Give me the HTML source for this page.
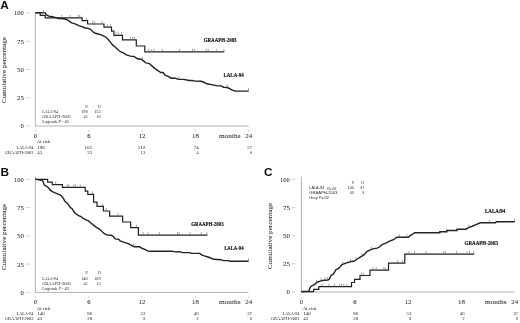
<!DOCTYPE html>
<html><head><meta charset="utf-8"><style>
html,body{margin:0;padding:0;background:#fff;}
body{width:520px;height:323px;overflow:hidden;font-family:"Liberation Sans",sans-serif;}
svg{display:block;will-change:transform;}
</style></head><body>
<svg width="520" height="323" viewBox="0 0 520 323">
<rect width="520" height="323" fill="#fff"/>
<text x="0.2" y="9.1" font-size="11.8" font-family='"Liberation Sans", sans-serif' text-anchor="start" font-weight="bold" font-style="normal" fill="#111" >A</text>
<line x1="35.40" y1="12.40" x2="35.40" y2="126.50" stroke="#b4b4b4" stroke-width="1"/>
<line x1="35.40" y1="126.00" x2="248.70" y2="126.00" stroke="#b4b4b4" stroke-width="1"/>
<line x1="25.60" y1="13.00" x2="29.60" y2="13.00" stroke="#c8c8c8" stroke-width="0.8"/>
<text x="14.05" y="15.45" font-size="6.8" font-family='"Liberation Serif", serif' text-anchor="start" font-weight="normal" font-style="normal" fill="#333" textLength="9.80" lengthAdjust="spacingAndGlyphs" stroke="#444" stroke-width="0.08">100</text>
<line x1="25.60" y1="41.25" x2="29.60" y2="41.25" stroke="#c8c8c8" stroke-width="0.8"/>
<text x="16.95" y="43.70" font-size="6.8" font-family='"Liberation Serif", serif' text-anchor="start" font-weight="normal" font-style="normal" fill="#333" textLength="6.90" lengthAdjust="spacingAndGlyphs" stroke="#444" stroke-width="0.08">75</text>
<line x1="25.60" y1="69.50" x2="29.60" y2="69.50" stroke="#c8c8c8" stroke-width="0.8"/>
<text x="16.95" y="71.95" font-size="6.8" font-family='"Liberation Serif", serif' text-anchor="start" font-weight="normal" font-style="normal" fill="#333" textLength="6.90" lengthAdjust="spacingAndGlyphs" stroke="#444" stroke-width="0.08">50</text>
<line x1="25.60" y1="97.75" x2="29.60" y2="97.75" stroke="#c8c8c8" stroke-width="0.8"/>
<text x="16.95" y="100.20" font-size="6.8" font-family='"Liberation Serif", serif' text-anchor="start" font-weight="normal" font-style="normal" fill="#333" textLength="6.90" lengthAdjust="spacingAndGlyphs" stroke="#444" stroke-width="0.08">25</text>
<line x1="25.60" y1="126.00" x2="29.60" y2="126.00" stroke="#c8c8c8" stroke-width="0.8"/>
<text x="20.45" y="128.45" font-size="6.8" font-family='"Liberation Serif", serif' text-anchor="start" font-weight="normal" font-style="normal" fill="#333" textLength="3.40" lengthAdjust="spacingAndGlyphs" stroke="#444" stroke-width="0.08">0</text>
<line x1="35.40" y1="129.40" x2="35.40" y2="131.80" stroke="#bbb" stroke-width="0.6"/>
<text x="33.85" y="137.50" font-size="7.0" font-family='"Liberation Serif", serif' text-anchor="start" font-weight="normal" font-style="normal" fill="#333" textLength="3.30" lengthAdjust="spacingAndGlyphs" stroke="#444" stroke-width="0.08">0</text>
<line x1="88.70" y1="129.40" x2="88.70" y2="131.80" stroke="#bbb" stroke-width="0.6"/>
<text x="87.15" y="137.50" font-size="7.0" font-family='"Liberation Serif", serif' text-anchor="start" font-weight="normal" font-style="normal" fill="#333" textLength="3.30" lengthAdjust="spacingAndGlyphs" stroke="#444" stroke-width="0.08">6</text>
<line x1="142.00" y1="129.40" x2="142.00" y2="131.80" stroke="#bbb" stroke-width="0.6"/>
<text x="138.65" y="137.50" font-size="7.0" font-family='"Liberation Serif", serif' text-anchor="start" font-weight="normal" font-style="normal" fill="#333" textLength="6.90" lengthAdjust="spacingAndGlyphs" stroke="#444" stroke-width="0.08">12</text>
<line x1="195.30" y1="129.40" x2="195.30" y2="131.80" stroke="#bbb" stroke-width="0.6"/>
<text x="191.95" y="137.50" font-size="7.0" font-family='"Liberation Serif", serif' text-anchor="start" font-weight="normal" font-style="normal" fill="#333" textLength="6.90" lengthAdjust="spacingAndGlyphs" stroke="#444" stroke-width="0.08">18</text>
<line x1="248.60" y1="129.40" x2="248.60" y2="131.80" stroke="#bbb" stroke-width="0.6"/>
<text x="245.25" y="137.50" font-size="7.0" font-family='"Liberation Serif", serif' text-anchor="start" font-weight="normal" font-style="normal" fill="#333" textLength="6.90" lengthAdjust="spacingAndGlyphs" stroke="#444" stroke-width="0.08">24</text>
<text x="219.05" y="137.50" font-size="7.0" font-family='"Liberation Serif", serif' text-anchor="start" font-weight="normal" font-style="normal" fill="#333" textLength="21.50" lengthAdjust="spacingAndGlyphs" stroke="#444" stroke-width="0.08">months</text>
<text x="0" y="0" font-size="7.0" font-family='"Liberation Serif", serif' text-anchor="middle" fill="#333" stroke="#444" stroke-width="0.08" textLength="66.30" lengthAdjust="spacingAndGlyphs" transform="translate(5.9,70.2) rotate(-90)">Cumulative percentage</text>
<polyline points="35.40,12.70 40.20,12.70 40.20,15.40 45.20,15.40 45.20,17.90 82.10,17.90 82.10,20.70 87.60,20.70 87.60,24.00 104.00,24.00 104.00,27.20 111.50,27.20 111.50,31.10 113.90,31.10 113.90,35.30 122.50,35.30 122.50,39.80 136.30,39.80 136.30,46.00 144.80,46.00 144.80,51.90 224.30,51.90" fill="none" stroke="#222" stroke-width="1.2" stroke-linejoin="miter"/>
<line x1="61.70" y1="17.90" x2="61.70" y2="14.90" stroke="#666" stroke-width="0.6"/>
<line x1="70.20" y1="17.90" x2="70.20" y2="14.90" stroke="#666" stroke-width="0.6"/>
<line x1="78.40" y1="17.90" x2="78.40" y2="14.90" stroke="#666" stroke-width="0.6"/>
<line x1="79.80" y1="17.90" x2="79.80" y2="14.90" stroke="#666" stroke-width="0.6"/>
<line x1="86.60" y1="20.70" x2="86.60" y2="17.70" stroke="#666" stroke-width="0.6"/>
<line x1="92.70" y1="24.00" x2="92.70" y2="21.00" stroke="#666" stroke-width="0.6"/>
<line x1="94.60" y1="24.00" x2="94.60" y2="21.00" stroke="#666" stroke-width="0.6"/>
<line x1="102.00" y1="24.00" x2="102.00" y2="21.00" stroke="#666" stroke-width="0.6"/>
<line x1="107.30" y1="27.20" x2="107.30" y2="24.20" stroke="#666" stroke-width="0.6"/>
<line x1="110.60" y1="27.20" x2="110.60" y2="24.20" stroke="#666" stroke-width="0.6"/>
<line x1="116.00" y1="35.30" x2="116.00" y2="32.30" stroke="#666" stroke-width="0.6"/>
<line x1="118.30" y1="35.30" x2="118.30" y2="32.30" stroke="#666" stroke-width="0.6"/>
<line x1="121.50" y1="35.30" x2="121.50" y2="32.30" stroke="#666" stroke-width="0.6"/>
<line x1="130.60" y1="39.80" x2="130.60" y2="36.80" stroke="#666" stroke-width="0.6"/>
<line x1="132.90" y1="39.80" x2="132.90" y2="36.80" stroke="#666" stroke-width="0.6"/>
<line x1="134.60" y1="39.80" x2="134.60" y2="36.80" stroke="#666" stroke-width="0.6"/>
<line x1="148.50" y1="51.90" x2="148.50" y2="48.90" stroke="#666" stroke-width="0.6"/>
<line x1="151.30" y1="51.90" x2="151.30" y2="48.90" stroke="#666" stroke-width="0.6"/>
<line x1="153.70" y1="51.90" x2="153.70" y2="48.90" stroke="#666" stroke-width="0.6"/>
<line x1="162.30" y1="51.90" x2="162.30" y2="48.90" stroke="#666" stroke-width="0.6"/>
<line x1="179.30" y1="51.90" x2="179.30" y2="48.90" stroke="#666" stroke-width="0.6"/>
<line x1="192.50" y1="51.90" x2="192.50" y2="48.90" stroke="#666" stroke-width="0.6"/>
<line x1="194.60" y1="51.90" x2="194.60" y2="48.90" stroke="#666" stroke-width="0.6"/>
<line x1="206.20" y1="51.90" x2="206.20" y2="48.90" stroke="#666" stroke-width="0.6"/>
<line x1="208.20" y1="51.90" x2="208.20" y2="48.90" stroke="#666" stroke-width="0.6"/>
<line x1="216.90" y1="51.90" x2="216.90" y2="48.90" stroke="#666" stroke-width="0.6"/>
<line x1="223.90" y1="51.90" x2="223.90" y2="48.90" stroke="#666" stroke-width="0.6"/>
<polyline points="35.40,12.70 45.20,12.90 46.50,15.00 48.90,16.10 52.60,16.70 55.70,17.60 58.80,18.50 64.10,18.80 66.50,19.50 68.90,20.90 71.60,22.90 74.30,23.60 77.00,24.60 78.70,25.60 81.80,26.60 85.20,28.00 88.20,28.40 90.80,29.60 93.60,32.40 95.40,33.30 99.10,34.20 102.90,35.60 105.60,37.00 108.00,39.30 110.30,42.10 112.60,44.90 114.90,46.70 117.70,49.50 120.50,51.70 123.40,52.90 126.40,54.90 130.50,56.10 134.10,56.50 136.90,58.50 140.90,59.30 142.10,59.70 145.80,62.90 149.00,63.30 152.20,66.10 155.40,68.90 157.30,70.20 160.80,72.50 163.10,72.50 165.00,75.20 168.10,76.30 171.20,78.20 175.40,78.20 178.10,79.40 182.70,79.40 185.80,79.80 188.80,80.50 192.00,80.50 195.10,81.10 201.20,81.30 204.30,82.50 207.00,83.80 211.20,84.60 215.10,85.40 217.40,85.90 221.20,85.90 223.50,87.20 227.40,87.50 232.00,89.80 235.00,91.10 248.70,91.10" fill="none" stroke="#222" stroke-width="1.4" stroke-linejoin="miter"/>
<line x1="43.60" y1="12.87" x2="43.60" y2="9.87" stroke="#666" stroke-width="0.6"/>
<line x1="142.50" y1="60.05" x2="142.50" y2="57.05" stroke="#666" stroke-width="0.6"/>
<line x1="178.80" y1="79.40" x2="178.80" y2="76.40" stroke="#666" stroke-width="0.6"/>
<line x1="227.00" y1="87.47" x2="227.00" y2="84.47" stroke="#666" stroke-width="0.6"/>
<line x1="248.50" y1="91.10" x2="248.50" y2="88.10" stroke="#666" stroke-width="0.6"/>
<text x="203.70" y="41.90" font-size="5.2" font-family='"Liberation Serif", serif' text-anchor="start" font-weight="bold" font-style="normal" fill="#111" textLength="32.90" lengthAdjust="spacingAndGlyphs" stroke="#111" stroke-width="0.15">GRAAPH-2003</text>
<text x="223.50" y="76.60" font-size="5.2" font-family='"Liberation Serif", serif' text-anchor="start" font-weight="bold" font-style="normal" fill="#111" textLength="20.30" lengthAdjust="spacingAndGlyphs" stroke="#111" stroke-width="0.15">LALA-94</text>
<text x="85.25" y="108.00" font-size="4.6" font-family='"Liberation Serif", serif' text-anchor="start" font-weight="normal" font-style="normal" fill="#2a2a2a" textLength="2.40" lengthAdjust="spacingAndGlyphs" >N</text>
<text x="97.65" y="108.00" font-size="4.6" font-family='"Liberation Serif", serif' text-anchor="start" font-weight="normal" font-style="normal" fill="#2a2a2a" textLength="3.00" lengthAdjust="spacingAndGlyphs" >O</text>
<text x="42.15" y="113.20" font-size="4.6" font-family='"Liberation Serif", serif' text-anchor="start" font-weight="normal" font-style="normal" fill="#2a2a2a" textLength="15.80" lengthAdjust="spacingAndGlyphs" >LALA-94</text>
<text x="81.15" y="113.20" font-size="4.6" font-family='"Liberation Serif", serif' text-anchor="start" font-weight="normal" font-style="normal" fill="#2a2a2a" textLength="6.50" lengthAdjust="spacingAndGlyphs" >198</text>
<text x="94.15" y="113.20" font-size="4.6" font-family='"Liberation Serif", serif' text-anchor="start" font-weight="normal" font-style="normal" fill="#2a2a2a" textLength="6.50" lengthAdjust="spacingAndGlyphs" >153</text>
<text x="42.15" y="118.20" font-size="4.6" font-family='"Liberation Serif", serif' text-anchor="start" font-weight="normal" font-style="normal" fill="#2a2a2a" textLength="28.70" lengthAdjust="spacingAndGlyphs" >GRAAPH-2003</text>
<text x="83.55" y="118.20" font-size="4.6" font-family='"Liberation Serif", serif' text-anchor="start" font-weight="normal" font-style="normal" fill="#2a2a2a" textLength="4.10" lengthAdjust="spacingAndGlyphs" >43</text>
<text x="96.55" y="118.20" font-size="4.6" font-family='"Liberation Serif", serif' text-anchor="start" font-weight="normal" font-style="normal" fill="#2a2a2a" textLength="4.10" lengthAdjust="spacingAndGlyphs" >10</text>
<text x="42.15" y="123.30" font-size="4.6" font-family='"Liberation Serif", serif' text-anchor="start" font-weight="normal" font-style="normal" fill="#2a2a2a" textLength="27.20" lengthAdjust="spacingAndGlyphs" >Logrank <tspan font-style="italic">P</tspan>=.05</text>
<text x="36.65" y="143.40" font-size="4.6" font-family='"Liberation Serif", serif' text-anchor="start" font-weight="normal" font-style="normal" fill="#222" textLength="13.60" lengthAdjust="spacingAndGlyphs" >At risk</text>
<text x="16.60" y="148.50" font-size="4.6" font-family='"Liberation Serif", serif' text-anchor="start" font-weight="normal" font-style="normal" fill="#222" textLength="16.80" lengthAdjust="spacingAndGlyphs" >LALA-94</text>
<text x="4.75" y="154.00" font-size="4.6" font-family='"Liberation Serif", serif' text-anchor="start" font-weight="normal" font-style="normal" fill="#222" textLength="28.65" lengthAdjust="spacingAndGlyphs" >GRAAPH-2003</text>
<text x="37.25" y="148.50" font-size="4.6" font-family='"Liberation Serif", serif' text-anchor="start" font-weight="normal" font-style="normal" fill="#222" textLength="7.55" lengthAdjust="spacingAndGlyphs" >198</text>
<text x="37.25" y="154.00" font-size="4.6" font-family='"Liberation Serif", serif' text-anchor="start" font-weight="normal" font-style="normal" fill="#222" textLength="4.80" lengthAdjust="spacingAndGlyphs" >43</text>
<text x="84.50" y="148.50" font-size="4.6" font-family='"Liberation Serif", serif' text-anchor="start" font-weight="normal" font-style="normal" fill="#222" textLength="7.55" lengthAdjust="spacingAndGlyphs" >165</text>
<text x="87.25" y="154.00" font-size="4.6" font-family='"Liberation Serif", serif' text-anchor="start" font-weight="normal" font-style="normal" fill="#222" textLength="4.80" lengthAdjust="spacingAndGlyphs" >33</text>
<text x="137.80" y="148.50" font-size="4.6" font-family='"Liberation Serif", serif' text-anchor="start" font-weight="normal" font-style="normal" fill="#222" textLength="7.55" lengthAdjust="spacingAndGlyphs" >112</text>
<text x="140.55" y="154.00" font-size="4.6" font-family='"Liberation Serif", serif' text-anchor="start" font-weight="normal" font-style="normal" fill="#222" textLength="4.80" lengthAdjust="spacingAndGlyphs" >13</text>
<text x="193.85" y="148.50" font-size="4.6" font-family='"Liberation Serif", serif' text-anchor="start" font-weight="normal" font-style="normal" fill="#222" textLength="4.80" lengthAdjust="spacingAndGlyphs" >74</text>
<text x="196.60" y="154.00" font-size="4.6" font-family='"Liberation Serif", serif' text-anchor="start" font-weight="normal" font-style="normal" fill="#222" textLength="2.05" lengthAdjust="spacingAndGlyphs" >4</text>
<text x="247.15" y="148.50" font-size="4.6" font-family='"Liberation Serif", serif' text-anchor="start" font-weight="normal" font-style="normal" fill="#222" textLength="4.80" lengthAdjust="spacingAndGlyphs" >57</text>
<text x="249.90" y="154.00" font-size="4.6" font-family='"Liberation Serif", serif' text-anchor="start" font-weight="normal" font-style="normal" fill="#222" textLength="2.05" lengthAdjust="spacingAndGlyphs" >0</text>
<text x="0.4" y="175.8" font-size="11.8" font-family='"Liberation Sans", sans-serif' text-anchor="start" font-weight="bold" font-style="normal" fill="#111" >B</text>
<line x1="35.40" y1="176.30" x2="35.40" y2="292.90" stroke="#b4b4b4" stroke-width="1"/>
<line x1="35.40" y1="292.40" x2="248.50" y2="292.40" stroke="#b4b4b4" stroke-width="1"/>
<line x1="25.60" y1="179.30" x2="29.60" y2="179.30" stroke="#c8c8c8" stroke-width="0.8"/>
<text x="14.05" y="181.75" font-size="6.8" font-family='"Liberation Serif", serif' text-anchor="start" font-weight="normal" font-style="normal" fill="#333" textLength="9.80" lengthAdjust="spacingAndGlyphs" stroke="#444" stroke-width="0.08">100</text>
<line x1="25.60" y1="207.57" x2="29.60" y2="207.57" stroke="#c8c8c8" stroke-width="0.8"/>
<text x="16.95" y="210.02" font-size="6.8" font-family='"Liberation Serif", serif' text-anchor="start" font-weight="normal" font-style="normal" fill="#333" textLength="6.90" lengthAdjust="spacingAndGlyphs" stroke="#444" stroke-width="0.08">75</text>
<line x1="25.60" y1="235.85" x2="29.60" y2="235.85" stroke="#c8c8c8" stroke-width="0.8"/>
<text x="16.95" y="238.30" font-size="6.8" font-family='"Liberation Serif", serif' text-anchor="start" font-weight="normal" font-style="normal" fill="#333" textLength="6.90" lengthAdjust="spacingAndGlyphs" stroke="#444" stroke-width="0.08">50</text>
<line x1="25.60" y1="264.12" x2="29.60" y2="264.12" stroke="#c8c8c8" stroke-width="0.8"/>
<text x="16.95" y="266.57" font-size="6.8" font-family='"Liberation Serif", serif' text-anchor="start" font-weight="normal" font-style="normal" fill="#333" textLength="6.90" lengthAdjust="spacingAndGlyphs" stroke="#444" stroke-width="0.08">25</text>
<line x1="25.60" y1="292.40" x2="29.60" y2="292.40" stroke="#c8c8c8" stroke-width="0.8"/>
<text x="20.45" y="294.85" font-size="6.8" font-family='"Liberation Serif", serif' text-anchor="start" font-weight="normal" font-style="normal" fill="#333" textLength="3.40" lengthAdjust="spacingAndGlyphs" stroke="#444" stroke-width="0.08">0</text>
<line x1="35.40" y1="295.80" x2="35.40" y2="298.20" stroke="#bbb" stroke-width="0.6"/>
<text x="33.85" y="303.90" font-size="7.0" font-family='"Liberation Serif", serif' text-anchor="start" font-weight="normal" font-style="normal" fill="#333" textLength="3.30" lengthAdjust="spacingAndGlyphs" stroke="#444" stroke-width="0.08">0</text>
<line x1="88.70" y1="295.80" x2="88.70" y2="298.20" stroke="#bbb" stroke-width="0.6"/>
<text x="87.15" y="303.90" font-size="7.0" font-family='"Liberation Serif", serif' text-anchor="start" font-weight="normal" font-style="normal" fill="#333" textLength="3.30" lengthAdjust="spacingAndGlyphs" stroke="#444" stroke-width="0.08">6</text>
<line x1="142.00" y1="295.80" x2="142.00" y2="298.20" stroke="#bbb" stroke-width="0.6"/>
<text x="138.65" y="303.90" font-size="7.0" font-family='"Liberation Serif", serif' text-anchor="start" font-weight="normal" font-style="normal" fill="#333" textLength="6.90" lengthAdjust="spacingAndGlyphs" stroke="#444" stroke-width="0.08">12</text>
<line x1="195.30" y1="295.80" x2="195.30" y2="298.20" stroke="#bbb" stroke-width="0.6"/>
<text x="191.95" y="303.90" font-size="7.0" font-family='"Liberation Serif", serif' text-anchor="start" font-weight="normal" font-style="normal" fill="#333" textLength="6.90" lengthAdjust="spacingAndGlyphs" stroke="#444" stroke-width="0.08">18</text>
<line x1="248.60" y1="295.80" x2="248.60" y2="298.20" stroke="#bbb" stroke-width="0.6"/>
<text x="245.25" y="303.90" font-size="7.0" font-family='"Liberation Serif", serif' text-anchor="start" font-weight="normal" font-style="normal" fill="#333" textLength="6.90" lengthAdjust="spacingAndGlyphs" stroke="#444" stroke-width="0.08">24</text>
<text x="219.05" y="303.90" font-size="7.0" font-family='"Liberation Serif", serif' text-anchor="start" font-weight="normal" font-style="normal" fill="#333" textLength="21.50" lengthAdjust="spacingAndGlyphs" stroke="#444" stroke-width="0.08">months</text>
<text x="0" y="0" font-size="7.0" font-family='"Liberation Serif", serif' text-anchor="middle" fill="#333" stroke="#444" stroke-width="0.08" textLength="66.30" lengthAdjust="spacingAndGlyphs" transform="translate(5.9,237.0) rotate(-90)">Cumulative percentage</text>
<polyline points="35.40,179.30 47.60,179.30 47.60,182.20 52.20,182.20 52.20,184.60 62.40,184.60 62.40,187.40 85.20,187.40 85.20,191.10 87.80,191.10 87.80,194.30 93.60,194.30 93.60,202.20 97.00,202.20 97.00,206.40 103.40,206.40 103.40,211.00 109.60,211.00 109.60,216.10 122.60,216.10 122.60,222.00 130.60,222.00 130.60,227.60 138.40,227.60 138.40,235.20 207.40,235.20" fill="none" stroke="#222" stroke-width="1.2" stroke-linejoin="miter"/>
<line x1="55.70" y1="184.60" x2="55.70" y2="181.60" stroke="#666" stroke-width="0.6"/>
<line x1="67.50" y1="187.40" x2="67.50" y2="184.40" stroke="#666" stroke-width="0.6"/>
<line x1="68.80" y1="187.40" x2="68.80" y2="184.40" stroke="#666" stroke-width="0.6"/>
<line x1="73.80" y1="187.40" x2="73.80" y2="184.40" stroke="#666" stroke-width="0.6"/>
<line x1="75.50" y1="187.40" x2="75.50" y2="184.40" stroke="#666" stroke-width="0.6"/>
<line x1="80.20" y1="187.40" x2="80.20" y2="184.40" stroke="#666" stroke-width="0.6"/>
<line x1="92.60" y1="194.30" x2="92.60" y2="191.30" stroke="#666" stroke-width="0.6"/>
<line x1="97.40" y1="206.40" x2="97.40" y2="203.40" stroke="#666" stroke-width="0.6"/>
<line x1="102.60" y1="206.40" x2="102.60" y2="203.40" stroke="#666" stroke-width="0.6"/>
<line x1="106.20" y1="211.00" x2="106.20" y2="208.00" stroke="#666" stroke-width="0.6"/>
<line x1="117.80" y1="216.10" x2="117.80" y2="213.10" stroke="#666" stroke-width="0.6"/>
<line x1="136.60" y1="227.60" x2="136.60" y2="224.60" stroke="#666" stroke-width="0.6"/>
<line x1="143.20" y1="235.20" x2="143.20" y2="232.20" stroke="#666" stroke-width="0.6"/>
<line x1="147.90" y1="235.20" x2="147.90" y2="232.20" stroke="#666" stroke-width="0.6"/>
<line x1="159.30" y1="235.20" x2="159.30" y2="232.20" stroke="#666" stroke-width="0.6"/>
<line x1="177.50" y1="235.20" x2="177.50" y2="232.20" stroke="#666" stroke-width="0.6"/>
<line x1="179.20" y1="235.20" x2="179.20" y2="232.20" stroke="#666" stroke-width="0.6"/>
<line x1="190.10" y1="235.20" x2="190.10" y2="232.20" stroke="#666" stroke-width="0.6"/>
<line x1="201.30" y1="235.20" x2="201.30" y2="232.20" stroke="#666" stroke-width="0.6"/>
<line x1="206.90" y1="235.20" x2="206.90" y2="232.20" stroke="#666" stroke-width="0.6"/>
<polyline points="35.40,179.30 37.70,179.60 40.20,180.10 42.10,180.30 43.30,181.80 43.90,184.30 44.80,185.50 47.00,186.50 48.60,188.00 50.10,189.90 52.00,191.40 54.50,192.70 57.60,193.90 60.00,194.80 61.20,195.70 63.20,198.10 64.90,201.30 67.30,203.30 68.90,205.30 70.50,207.70 72.10,208.70 73.60,211.30 75.20,213.30 78.10,215.30 80.90,216.50 83.30,218.50 86.50,220.10 88.50,220.90 90.90,223.00 93.20,224.90 96.40,227.30 99.70,229.30 102.00,231.60 104.40,233.70 107.20,235.10 111.30,235.30 113.30,236.50 115.30,238.90 118.90,239.30 120.10,240.90 124.20,242.40 128.20,243.70 131.40,245.30 134.20,246.70 139.60,246.80 142.40,248.50 144.90,249.30 148.10,251.10 152.10,251.30 172.00,251.10 175.10,251.90 179.70,251.70 182.40,252.60 189.70,252.60 191.60,253.40 199.70,253.40 201.60,254.80 204.30,255.90 208.10,257.00 210.50,258.00 213.90,259.30 220.70,259.70 223.70,260.60 228.30,260.60 230.00,261.20 248.60,261.20" fill="none" stroke="#222" stroke-width="1.4" stroke-linejoin="miter"/>
<line x1="133.40" y1="246.30" x2="133.40" y2="243.30" stroke="#666" stroke-width="0.6"/>
<line x1="248.40" y1="261.20" x2="248.40" y2="258.20" stroke="#666" stroke-width="0.6"/>
<text x="191.20" y="225.70" font-size="5.2" font-family='"Liberation Serif", serif' text-anchor="start" font-weight="bold" font-style="normal" fill="#111" textLength="32.40" lengthAdjust="spacingAndGlyphs" stroke="#111" stroke-width="0.15">GRAAPH-2003</text>
<text x="224.20" y="250.40" font-size="5.2" font-family='"Liberation Serif", serif' text-anchor="start" font-weight="bold" font-style="normal" fill="#111" textLength="19.35" lengthAdjust="spacingAndGlyphs" stroke="#111" stroke-width="0.15">LALA-94</text>
<text x="85.25" y="274.40" font-size="4.6" font-family='"Liberation Serif", serif' text-anchor="start" font-weight="normal" font-style="normal" fill="#2a2a2a" textLength="2.40" lengthAdjust="spacingAndGlyphs" >N</text>
<text x="97.65" y="274.40" font-size="4.6" font-family='"Liberation Serif", serif' text-anchor="start" font-weight="normal" font-style="normal" fill="#2a2a2a" textLength="3.00" lengthAdjust="spacingAndGlyphs" >O</text>
<text x="42.15" y="279.60" font-size="4.6" font-family='"Liberation Serif", serif' text-anchor="start" font-weight="normal" font-style="normal" fill="#2a2a2a" textLength="15.80" lengthAdjust="spacingAndGlyphs" >LALA-94</text>
<text x="81.15" y="279.60" font-size="4.6" font-family='"Liberation Serif", serif' text-anchor="start" font-weight="normal" font-style="normal" fill="#2a2a2a" textLength="6.50" lengthAdjust="spacingAndGlyphs" >140</text>
<text x="94.15" y="279.60" font-size="4.6" font-family='"Liberation Serif", serif' text-anchor="start" font-weight="normal" font-style="normal" fill="#2a2a2a" textLength="6.50" lengthAdjust="spacingAndGlyphs" >109</text>
<text x="42.15" y="284.60" font-size="4.6" font-family='"Liberation Serif", serif' text-anchor="start" font-weight="normal" font-style="normal" fill="#2a2a2a" textLength="28.70" lengthAdjust="spacingAndGlyphs" >GRAAPH-2003</text>
<text x="83.55" y="284.60" font-size="4.6" font-family='"Liberation Serif", serif' text-anchor="start" font-weight="normal" font-style="normal" fill="#2a2a2a" textLength="4.10" lengthAdjust="spacingAndGlyphs" >43</text>
<text x="96.55" y="284.60" font-size="4.6" font-family='"Liberation Serif", serif' text-anchor="start" font-weight="normal" font-style="normal" fill="#2a2a2a" textLength="4.10" lengthAdjust="spacingAndGlyphs" >13</text>
<text x="42.15" y="289.70" font-size="4.6" font-family='"Liberation Serif", serif' text-anchor="start" font-weight="normal" font-style="normal" fill="#2a2a2a" textLength="27.20" lengthAdjust="spacingAndGlyphs" >Logrank <tspan font-style="italic">P</tspan>=.02</text>
<text x="36.65" y="309.80" font-size="4.6" font-family='"Liberation Serif", serif' text-anchor="start" font-weight="normal" font-style="normal" fill="#222" textLength="13.60" lengthAdjust="spacingAndGlyphs" >At risk</text>
<text x="16.60" y="314.90" font-size="4.6" font-family='"Liberation Serif", serif' text-anchor="start" font-weight="normal" font-style="normal" fill="#222" textLength="16.80" lengthAdjust="spacingAndGlyphs" >LALA-94</text>
<text x="4.75" y="320.40" font-size="4.6" font-family='"Liberation Serif", serif' text-anchor="start" font-weight="normal" font-style="normal" fill="#222" textLength="28.65" lengthAdjust="spacingAndGlyphs" >GRAAPH-2003</text>
<text x="37.25" y="314.90" font-size="4.6" font-family='"Liberation Serif", serif' text-anchor="start" font-weight="normal" font-style="normal" fill="#222" textLength="7.55" lengthAdjust="spacingAndGlyphs" >140</text>
<text x="37.25" y="320.40" font-size="4.6" font-family='"Liberation Serif", serif' text-anchor="start" font-weight="normal" font-style="normal" fill="#222" textLength="4.80" lengthAdjust="spacingAndGlyphs" >43</text>
<text x="87.25" y="314.90" font-size="4.6" font-family='"Liberation Serif", serif' text-anchor="start" font-weight="normal" font-style="normal" fill="#222" textLength="4.80" lengthAdjust="spacingAndGlyphs" >86</text>
<text x="87.25" y="320.40" font-size="4.6" font-family='"Liberation Serif", serif' text-anchor="start" font-weight="normal" font-style="normal" fill="#222" textLength="4.80" lengthAdjust="spacingAndGlyphs" >28</text>
<text x="140.55" y="314.90" font-size="4.6" font-family='"Liberation Serif", serif' text-anchor="start" font-weight="normal" font-style="normal" fill="#222" textLength="4.80" lengthAdjust="spacingAndGlyphs" >53</text>
<text x="143.30" y="320.40" font-size="4.6" font-family='"Liberation Serif", serif' text-anchor="start" font-weight="normal" font-style="normal" fill="#222" textLength="2.05" lengthAdjust="spacingAndGlyphs" >8</text>
<text x="193.85" y="314.90" font-size="4.6" font-family='"Liberation Serif", serif' text-anchor="start" font-weight="normal" font-style="normal" fill="#222" textLength="4.80" lengthAdjust="spacingAndGlyphs" >46</text>
<text x="196.60" y="320.40" font-size="4.6" font-family='"Liberation Serif", serif' text-anchor="start" font-weight="normal" font-style="normal" fill="#222" textLength="2.05" lengthAdjust="spacingAndGlyphs" >2</text>
<text x="247.15" y="314.90" font-size="4.6" font-family='"Liberation Serif", serif' text-anchor="start" font-weight="normal" font-style="normal" fill="#222" textLength="4.80" lengthAdjust="spacingAndGlyphs" >37</text>
<text x="249.90" y="320.40" font-size="4.6" font-family='"Liberation Serif", serif' text-anchor="start" font-weight="normal" font-style="normal" fill="#222" textLength="2.05" lengthAdjust="spacingAndGlyphs" >0</text>
<text x="264.1" y="175.5" font-size="11.8" font-family='"Liberation Sans", sans-serif' text-anchor="start" font-weight="bold" font-style="normal" fill="#111" >C</text>
<line x1="301.40" y1="176.80" x2="301.40" y2="292.50" stroke="#b4b4b4" stroke-width="1"/>
<line x1="301.40" y1="292.00" x2="514.40" y2="292.00" stroke="#b4b4b4" stroke-width="1"/>
<line x1="291.60" y1="179.30" x2="295.60" y2="179.30" stroke="#c8c8c8" stroke-width="0.8"/>
<text x="280.05" y="181.75" font-size="6.8" font-family='"Liberation Serif", serif' text-anchor="start" font-weight="normal" font-style="normal" fill="#333" textLength="9.80" lengthAdjust="spacingAndGlyphs" stroke="#444" stroke-width="0.08">100</text>
<line x1="291.60" y1="207.48" x2="295.60" y2="207.48" stroke="#c8c8c8" stroke-width="0.8"/>
<text x="282.95" y="209.93" font-size="6.8" font-family='"Liberation Serif", serif' text-anchor="start" font-weight="normal" font-style="normal" fill="#333" textLength="6.90" lengthAdjust="spacingAndGlyphs" stroke="#444" stroke-width="0.08">75</text>
<line x1="291.60" y1="235.65" x2="295.60" y2="235.65" stroke="#c8c8c8" stroke-width="0.8"/>
<text x="282.95" y="238.10" font-size="6.8" font-family='"Liberation Serif", serif' text-anchor="start" font-weight="normal" font-style="normal" fill="#333" textLength="6.90" lengthAdjust="spacingAndGlyphs" stroke="#444" stroke-width="0.08">50</text>
<line x1="291.60" y1="263.82" x2="295.60" y2="263.82" stroke="#c8c8c8" stroke-width="0.8"/>
<text x="282.95" y="266.27" font-size="6.8" font-family='"Liberation Serif", serif' text-anchor="start" font-weight="normal" font-style="normal" fill="#333" textLength="6.90" lengthAdjust="spacingAndGlyphs" stroke="#444" stroke-width="0.08">25</text>
<line x1="291.60" y1="292.00" x2="295.60" y2="292.00" stroke="#c8c8c8" stroke-width="0.8"/>
<text x="286.45" y="294.45" font-size="6.8" font-family='"Liberation Serif", serif' text-anchor="start" font-weight="normal" font-style="normal" fill="#333" textLength="3.40" lengthAdjust="spacingAndGlyphs" stroke="#444" stroke-width="0.08">0</text>
<text x="299.85" y="303.50" font-size="7.0" font-family='"Liberation Serif", serif' text-anchor="start" font-weight="normal" font-style="normal" fill="#333" textLength="3.30" lengthAdjust="spacingAndGlyphs" stroke="#444" stroke-width="0.08">0</text>
<text x="353.15" y="303.50" font-size="7.0" font-family='"Liberation Serif", serif' text-anchor="start" font-weight="normal" font-style="normal" fill="#333" textLength="3.30" lengthAdjust="spacingAndGlyphs" stroke="#444" stroke-width="0.08">6</text>
<text x="404.65" y="303.50" font-size="7.0" font-family='"Liberation Serif", serif' text-anchor="start" font-weight="normal" font-style="normal" fill="#333" textLength="6.90" lengthAdjust="spacingAndGlyphs" stroke="#444" stroke-width="0.08">12</text>
<text x="457.95" y="303.50" font-size="7.0" font-family='"Liberation Serif", serif' text-anchor="start" font-weight="normal" font-style="normal" fill="#333" textLength="6.90" lengthAdjust="spacingAndGlyphs" stroke="#444" stroke-width="0.08">18</text>
<text x="511.25" y="303.50" font-size="7.0" font-family='"Liberation Serif", serif' text-anchor="start" font-weight="normal" font-style="normal" fill="#333" textLength="6.90" lengthAdjust="spacingAndGlyphs" stroke="#444" stroke-width="0.08">24</text>
<text x="485.05" y="303.50" font-size="7.0" font-family='"Liberation Serif", serif' text-anchor="start" font-weight="normal" font-style="normal" fill="#333" textLength="21.50" lengthAdjust="spacingAndGlyphs" stroke="#444" stroke-width="0.08">months</text>
<text x="0" y="0" font-size="7.0" font-family='"Liberation Serif", serif' text-anchor="middle" fill="#333" stroke="#444" stroke-width="0.08" textLength="66.30" lengthAdjust="spacingAndGlyphs" transform="translate(271.5,236.0) rotate(-90)">Cumulative percentage</text>
<polyline points="301.30,291.70 313.60,291.70 313.60,289.30 318.80,289.30 318.80,286.60 351.50,286.60 351.50,282.50 354.60,282.50 354.60,279.30 360.00,279.30 360.00,275.50 370.00,275.50 370.00,270.20 388.50,270.20 388.50,263.20 404.80,263.20 404.80,254.20 474.20,254.20" fill="none" stroke="#222" stroke-width="1.2" stroke-linejoin="miter"/>
<line x1="322.30" y1="286.60" x2="322.30" y2="283.60" stroke="#666" stroke-width="0.6"/>
<line x1="328.80" y1="286.60" x2="328.80" y2="283.60" stroke="#666" stroke-width="0.6"/>
<line x1="334.40" y1="286.60" x2="334.40" y2="283.60" stroke="#666" stroke-width="0.6"/>
<line x1="339.70" y1="286.60" x2="339.70" y2="283.60" stroke="#666" stroke-width="0.6"/>
<line x1="341.50" y1="286.60" x2="341.50" y2="283.60" stroke="#666" stroke-width="0.6"/>
<line x1="343.80" y1="286.60" x2="343.80" y2="283.60" stroke="#666" stroke-width="0.6"/>
<line x1="346.90" y1="286.60" x2="346.90" y2="283.60" stroke="#666" stroke-width="0.6"/>
<line x1="361.50" y1="275.50" x2="361.50" y2="272.50" stroke="#666" stroke-width="0.6"/>
<line x1="363.40" y1="275.50" x2="363.40" y2="272.50" stroke="#666" stroke-width="0.6"/>
<line x1="373.00" y1="270.20" x2="373.00" y2="267.20" stroke="#666" stroke-width="0.6"/>
<line x1="376.20" y1="270.20" x2="376.20" y2="267.20" stroke="#666" stroke-width="0.6"/>
<line x1="383.80" y1="270.20" x2="383.80" y2="267.20" stroke="#666" stroke-width="0.6"/>
<line x1="385.40" y1="270.20" x2="385.40" y2="267.20" stroke="#666" stroke-width="0.6"/>
<line x1="397.70" y1="263.20" x2="397.70" y2="260.20" stroke="#666" stroke-width="0.6"/>
<line x1="402.30" y1="263.20" x2="402.30" y2="260.20" stroke="#666" stroke-width="0.6"/>
<line x1="408.90" y1="254.20" x2="408.90" y2="251.20" stroke="#666" stroke-width="0.6"/>
<line x1="414.60" y1="254.20" x2="414.60" y2="251.20" stroke="#666" stroke-width="0.6"/>
<line x1="425.90" y1="254.20" x2="425.90" y2="251.20" stroke="#666" stroke-width="0.6"/>
<line x1="443.70" y1="254.20" x2="443.70" y2="251.20" stroke="#666" stroke-width="0.6"/>
<line x1="445.30" y1="254.20" x2="445.30" y2="251.20" stroke="#666" stroke-width="0.6"/>
<line x1="456.60" y1="254.20" x2="456.60" y2="251.20" stroke="#666" stroke-width="0.6"/>
<line x1="467.10" y1="254.20" x2="467.10" y2="251.20" stroke="#666" stroke-width="0.6"/>
<line x1="469.50" y1="254.20" x2="469.50" y2="251.20" stroke="#666" stroke-width="0.6"/>
<line x1="473.60" y1="254.20" x2="473.60" y2="251.20" stroke="#666" stroke-width="0.6"/>
<polyline points="301.30,291.50 308.80,291.30 309.70,288.50 310.60,286.80 312.30,285.50 314.50,284.60 316.20,282.90 317.90,282.00 321.00,280.90 324.00,280.30 328.00,280.00 329.30,279.00 331.00,275.50 333.20,274.20 334.90,271.60 336.20,269.40 338.40,268.60 340.10,266.80 341.90,264.70 344.00,263.80 346.60,262.80 351.30,261.50 353.90,261.30 357.30,259.00 360.70,256.80 364.20,254.60 366.80,251.60 370.30,249.90 373.80,248.60 377.20,248.10 379.80,246.80 381.90,244.50 385.80,243.10 389.60,241.20 393.50,239.70 396.80,237.30 408.40,237.30 409.80,235.90 412.70,234.20 414.60,232.70 439.80,232.70 439.80,231.80 446.80,231.80 446.80,230.50 457.00,230.50 457.00,229.30 466.00,229.20 468.50,227.60 471.70,226.50 476.00,224.70 480.30,222.80 495.40,222.80 496.40,221.70 514.70,221.70" fill="none" stroke="#222" stroke-width="1.4" stroke-linejoin="miter"/>
<line x1="316.60" y1="282.69" x2="316.60" y2="279.69" stroke="#666" stroke-width="0.6"/>
<line x1="321.00" y1="280.90" x2="321.00" y2="277.90" stroke="#666" stroke-width="0.6"/>
<line x1="325.00" y1="280.23" x2="325.00" y2="277.23" stroke="#666" stroke-width="0.6"/>
<line x1="327.50" y1="280.04" x2="327.50" y2="277.04" stroke="#666" stroke-width="0.6"/>
<line x1="342.70" y1="264.36" x2="342.70" y2="261.36" stroke="#666" stroke-width="0.6"/>
<line x1="350.50" y1="261.72" x2="350.50" y2="258.72" stroke="#666" stroke-width="0.6"/>
<line x1="356.00" y1="259.88" x2="356.00" y2="256.88" stroke="#666" stroke-width="0.6"/>
<line x1="361.80" y1="256.11" x2="361.80" y2="253.11" stroke="#666" stroke-width="0.6"/>
<line x1="371.30" y1="249.53" x2="371.30" y2="246.53" stroke="#666" stroke-width="0.6"/>
<line x1="399.50" y1="237.30" x2="399.50" y2="234.30" stroke="#666" stroke-width="0.6"/>
<line x1="406.90" y1="237.30" x2="406.90" y2="234.30" stroke="#666" stroke-width="0.6"/>
<line x1="469.00" y1="227.43" x2="469.00" y2="224.43" stroke="#666" stroke-width="0.6"/>
<line x1="489.40" y1="222.80" x2="489.40" y2="219.80" stroke="#666" stroke-width="0.6"/>
<line x1="514.60" y1="221.70" x2="514.60" y2="218.70" stroke="#666" stroke-width="0.6"/>
<text x="484.90" y="213.00" font-size="5.2" font-family='"Liberation Serif", serif' text-anchor="start" font-weight="bold" font-style="normal" fill="#111" textLength="20.50" lengthAdjust="spacingAndGlyphs" stroke="#111" stroke-width="0.15">LALA/94</text>
<text x="464.50" y="245.20" font-size="5.2" font-family='"Liberation Serif", serif' text-anchor="start" font-weight="bold" font-style="normal" fill="#111" textLength="33.40" lengthAdjust="spacingAndGlyphs" stroke="#111" stroke-width="0.15">GRAAPH-2003</text>
<text x="351.85" y="183.60" font-size="4.2" font-family='"Liberation Sans", sans-serif' text-anchor="start" font-weight="normal" font-style="normal" fill="#2a2a2a" textLength="1.90" lengthAdjust="spacingAndGlyphs" >N</text>
<text x="360.95" y="183.60" font-size="4.2" font-family='"Liberation Sans", sans-serif' text-anchor="start" font-weight="normal" font-style="normal" fill="#2a2a2a" textLength="3.30" lengthAdjust="spacingAndGlyphs" >O</text>
<text x="309.35" y="188.80" font-size="4.2" font-family='"Liberation Sans", sans-serif' text-anchor="start" font-weight="normal" font-style="normal" fill="#2a2a2a" textLength="14.80" lengthAdjust="spacingAndGlyphs" >LALA-94</text>
<text x="326.95" y="189.90" font-size="3.4" font-family='"Liberation Sans", sans-serif' text-anchor="start" font-weight="normal" font-style="italic" fill="#2a2a2a" textLength="9.30" lengthAdjust="spacingAndGlyphs" >P=.02</text>
<text x="347.75" y="188.80" font-size="4.2" font-family='"Liberation Sans", sans-serif' text-anchor="start" font-weight="normal" font-style="normal" fill="#2a2a2a" textLength="6.00" lengthAdjust="spacingAndGlyphs" >140</text>
<text x="360.55" y="188.80" font-size="4.2" font-family='"Liberation Sans", sans-serif' text-anchor="start" font-weight="normal" font-style="normal" fill="#2a2a2a" textLength="3.70" lengthAdjust="spacingAndGlyphs" >81</text>
<text x="309.35" y="193.80" font-size="4.2" font-family='"Liberation Sans", sans-serif' text-anchor="start" font-weight="normal" font-style="normal" fill="#2a2a2a" textLength="28.00" lengthAdjust="spacingAndGlyphs" >GRAAPH-2003</text>
<text x="349.75" y="193.80" font-size="4.2" font-family='"Liberation Sans", sans-serif' text-anchor="start" font-weight="normal" font-style="normal" fill="#2a2a2a" textLength="4.00" lengthAdjust="spacingAndGlyphs" >43</text>
<text x="362.55" y="193.80" font-size="4.2" font-family='"Liberation Sans", sans-serif' text-anchor="start" font-weight="normal" font-style="normal" fill="#2a2a2a" textLength="1.70" lengthAdjust="spacingAndGlyphs" >8</text>
<text x="309.35" y="198.70" font-size="4.2" font-family='"Liberation Sans", sans-serif' text-anchor="start" font-weight="normal" font-style="normal" fill="#2a2a2a" textLength="19.50" lengthAdjust="spacingAndGlyphs" >Gray <tspan font-style="italic">P=.02</tspan></text>
<text x="302.65" y="309.80" font-size="4.6" font-family='"Liberation Serif", serif' text-anchor="start" font-weight="normal" font-style="italic" fill="#222" textLength="13.60" lengthAdjust="spacingAndGlyphs" >At risk</text>
<text x="282.60" y="314.90" font-size="4.6" font-family='"Liberation Serif", serif' text-anchor="start" font-weight="normal" font-style="normal" fill="#222" textLength="16.80" lengthAdjust="spacingAndGlyphs" >LALA-94</text>
<text x="270.75" y="320.40" font-size="4.6" font-family='"Liberation Serif", serif' text-anchor="start" font-weight="normal" font-style="normal" fill="#222" textLength="28.65" lengthAdjust="spacingAndGlyphs" >GRAAPH-2003</text>
<text x="303.25" y="314.90" font-size="4.6" font-family='"Liberation Serif", serif' text-anchor="start" font-weight="normal" font-style="normal" fill="#222" textLength="7.55" lengthAdjust="spacingAndGlyphs" >140</text>
<text x="303.25" y="320.40" font-size="4.6" font-family='"Liberation Serif", serif' text-anchor="start" font-weight="normal" font-style="normal" fill="#222" textLength="4.80" lengthAdjust="spacingAndGlyphs" >43</text>
<text x="353.25" y="314.90" font-size="4.6" font-family='"Liberation Serif", serif' text-anchor="start" font-weight="normal" font-style="normal" fill="#222" textLength="4.80" lengthAdjust="spacingAndGlyphs" >86</text>
<text x="353.25" y="320.40" font-size="4.6" font-family='"Liberation Serif", serif' text-anchor="start" font-weight="normal" font-style="normal" fill="#222" textLength="4.80" lengthAdjust="spacingAndGlyphs" >28</text>
<text x="406.55" y="314.90" font-size="4.6" font-family='"Liberation Serif", serif' text-anchor="start" font-weight="normal" font-style="normal" fill="#222" textLength="4.80" lengthAdjust="spacingAndGlyphs" >53</text>
<text x="409.30" y="320.40" font-size="4.6" font-family='"Liberation Serif", serif' text-anchor="start" font-weight="normal" font-style="normal" fill="#222" textLength="2.05" lengthAdjust="spacingAndGlyphs" >8</text>
<text x="459.85" y="314.90" font-size="4.6" font-family='"Liberation Serif", serif' text-anchor="start" font-weight="normal" font-style="normal" fill="#222" textLength="4.80" lengthAdjust="spacingAndGlyphs" >46</text>
<text x="462.60" y="320.40" font-size="4.6" font-family='"Liberation Serif", serif' text-anchor="start" font-weight="normal" font-style="normal" fill="#222" textLength="2.05" lengthAdjust="spacingAndGlyphs" >2</text>
<text x="513.15" y="314.90" font-size="4.6" font-family='"Liberation Serif", serif' text-anchor="start" font-weight="normal" font-style="normal" fill="#222" textLength="4.80" lengthAdjust="spacingAndGlyphs" >37</text>
<text x="515.90" y="320.40" font-size="4.6" font-family='"Liberation Serif", serif' text-anchor="start" font-weight="normal" font-style="normal" fill="#222" textLength="2.05" lengthAdjust="spacingAndGlyphs" >0</text>
</svg>
</body></html>
